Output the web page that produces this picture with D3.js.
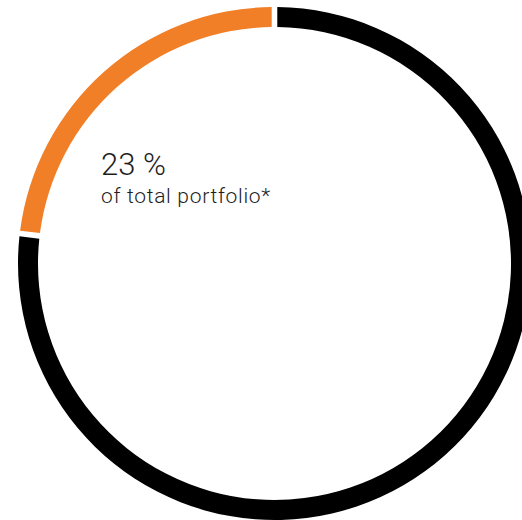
<!DOCTYPE html>
<html>
<head>
<meta charset="utf-8">
<script src="https://cdn.jsdelivr.net/npm/d3@7"></script>
<style>
  body { margin: 0; background: #fff; }
  svg { display: block; }
</style>
</head>
<body>
<div class="container"></div>
<script>
// share of portfolio: rest first so the highlighted slice ends at 12 o'clock
var categories = ["rest", "share"];
var values = [77, 23];
var colors = ["#000000", "#f07f27"];
var label = "23 %";
var sublabel = "of total portfolio*";

var width = 522;
var height = 520;
var cx = 274.5;
var cy = 263.5;
var outer = 256.5;
var inner = 236.5;

var svg = d3
  .select(".container")
  .append("svg")
  .attr("width", width)
  .attr("height", height);

var pie = d3.pie().sort(null).padAngle(0.016);
var arc = d3.arc().innerRadius(inner).outerRadius(outer);

var color = d3.scaleOrdinal().domain(categories).range(colors);

var g = svg.append("g").attr("transform", `translate(${cx},${cy})`);

g.selectAll("path.slice")
  .data(pie(values))
  .enter()
  .append("path")
  .attr("class", "slice")
  .attr("d", arc)
  .style("fill", function (d, i) {
    return color(categories[i]);
  });

svg
  .append("text")
  .attr("x", 101)
  .attr("y", 175)
  .style("font-family", "Roboto, sans-serif")
  .style("font-weight", 300)
  .style("font-size", "31px")
  .style("fill", "#1e1e1e")
  .text(label);

svg
  .append("text")
  .attr("x", 101)
  .attr("y", 203)
  .style("font-family", "Roboto, sans-serif")
  .style("font-weight", 300)
  .style("font-size", "21px")
  .style("letter-spacing", "0.7px")
  .style("fill", "#1e1e1e")
  .text(sublabel);
</script>
</body>
</html>
